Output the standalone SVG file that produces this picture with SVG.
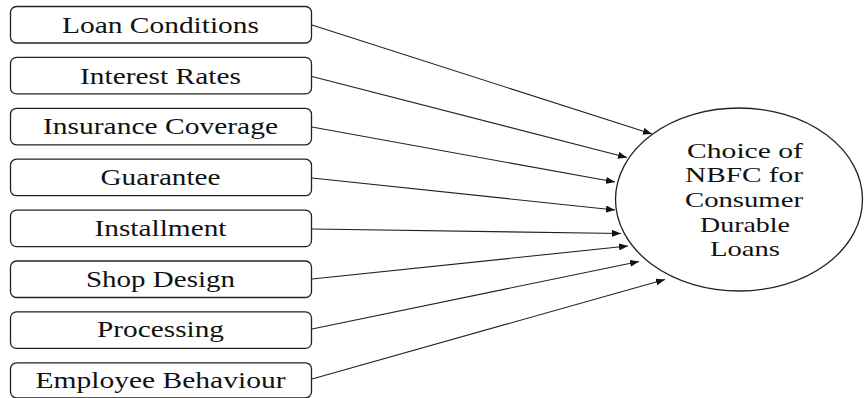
<svg xmlns="http://www.w3.org/2000/svg" width="865" height="398" viewBox="0 0 865 398">
<style>
.box{fill:#fff;stroke:#222;stroke-width:1.3}
.lbl{font-family:"Liberation Serif","Times New Roman",serif;font-size:22.5px;fill:#111;text-anchor:middle}
.elbl{font-family:"Liberation Serif","Times New Roman",serif;font-size:21px;fill:#111;text-anchor:middle}
.con{stroke:#222;stroke-width:1.1;fill:none;marker-end:url(#ah)}
</style>
<defs>
<marker id="ah" markerUnits="userSpaceOnUse" markerWidth="9" markerHeight="7" refX="9" refY="3.5" orient="auto">
<path d="M0,0 L9,3.5 L0,7 z" fill="#111"/>
</marker>
</defs>
<rect width="865" height="398" fill="#fff"/>
<g id="connectors">
<line class="con" x1="312" y1="25" x2="652" y2="134"/>
<line class="con" x1="312" y1="76.5" x2="627" y2="157.5"/>
<line class="con" x1="312" y1="127" x2="615" y2="182"/>
<line class="con" x1="312" y1="178" x2="615" y2="210"/>
<line class="con" x1="312" y1="229" x2="621" y2="233.5"/>
<line class="con" x1="312" y1="279" x2="628" y2="246"/>
<line class="con" x1="312" y1="329" x2="639" y2="261.5"/>
<line class="con" x1="312" y1="379" x2="665" y2="279.5"/>
</g>
<g id="n1"><rect class="box" x="10.5" y="6.5" width="301" height="36.5" rx="6"/><text class="lbl" x="160.5" y="33" textLength="197" lengthAdjust="spacingAndGlyphs">Loan Conditions</text></g>
<g id="n2"><rect class="box" x="10.5" y="57.4" width="301" height="36.5" rx="6"/><text class="lbl" x="160.5" y="83.7" textLength="161" lengthAdjust="spacingAndGlyphs">Interest Rates</text></g>
<g id="n3"><rect class="box" x="10.5" y="108.3" width="301" height="36.5" rx="6"/><text class="lbl" x="160.5" y="134.4" textLength="235" lengthAdjust="spacingAndGlyphs">Insurance Coverage</text></g>
<g id="n4"><rect class="box" x="10.5" y="159.2" width="301" height="36.5" rx="6"/><text class="lbl" x="160.5" y="185.1" textLength="120" lengthAdjust="spacingAndGlyphs">Guarantee</text></g>
<g id="n5"><rect class="box" x="10.5" y="210.1" width="301" height="36.5" rx="6"/><text class="lbl" x="160.5" y="235.8" textLength="132" lengthAdjust="spacingAndGlyphs">Installment</text></g>
<g id="n6"><rect class="box" x="10.5" y="261" width="301" height="36.5" rx="6"/><text class="lbl" x="160.5" y="286.5" textLength="149" lengthAdjust="spacingAndGlyphs">Shop Design</text></g>
<g id="n7"><rect class="box" x="10.5" y="311.9" width="301" height="36.5" rx="6"/><text class="lbl" x="160.5" y="337.2" textLength="127" lengthAdjust="spacingAndGlyphs">Processing</text></g>
<g id="n8"><rect class="box" x="10.5" y="362.8" width="301" height="35" rx="6"/><text class="lbl" x="160.5" y="388" textLength="250" lengthAdjust="spacingAndGlyphs">Employee Behaviour</text></g>
<g id="target">
<ellipse cx="739" cy="199.5" rx="123.5" ry="91.5" fill="#fff" stroke="#222" stroke-width="1.3"/>
<text class="elbl" x="745" y="158" textLength="116" lengthAdjust="spacingAndGlyphs">Choice of</text>
<text class="elbl" x="744" y="182" textLength="118" lengthAdjust="spacingAndGlyphs">NBFC for</text>
<text class="elbl" x="744" y="206.5" textLength="118" lengthAdjust="spacingAndGlyphs">Consumer</text>
<text class="elbl" x="745" y="231.5" textLength="90" lengthAdjust="spacingAndGlyphs">Durable</text>
<text class="elbl" x="745" y="256" textLength="70" lengthAdjust="spacingAndGlyphs">Loans</text>
</g>
</svg>
